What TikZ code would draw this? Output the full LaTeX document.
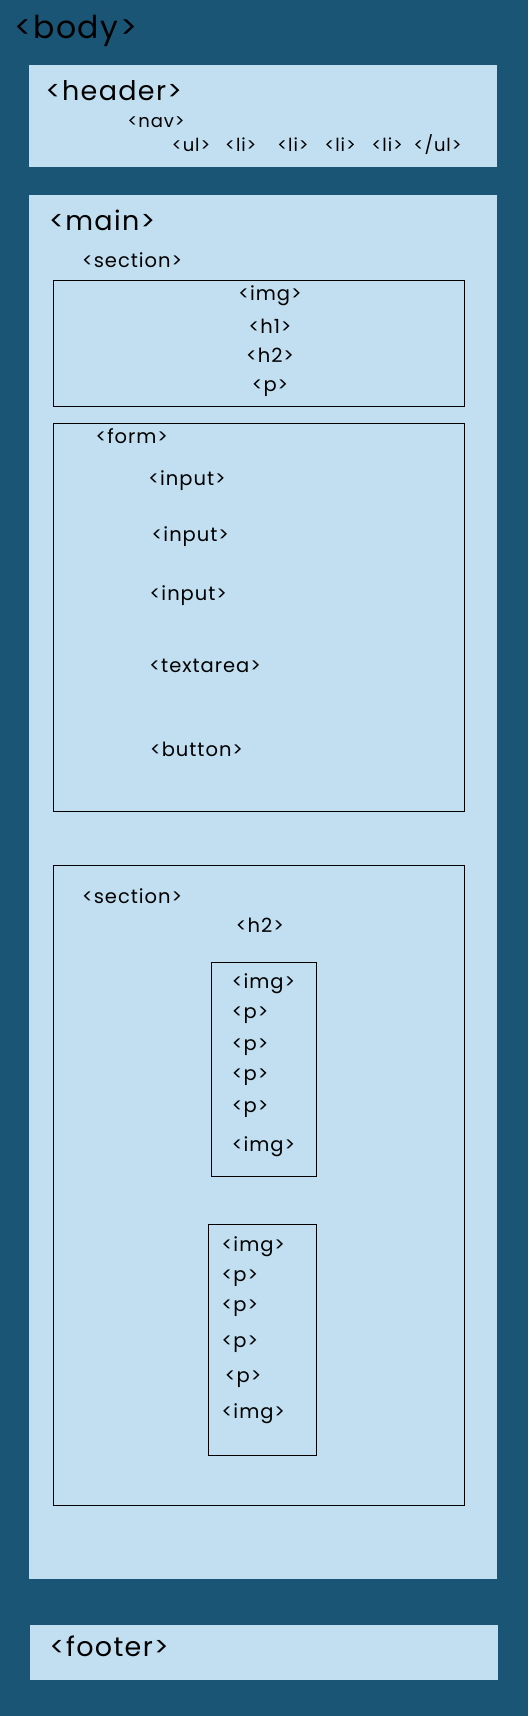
\documentclass[tikz,border=0pt]{standalone}
\usepackage{fontspec}
\setmainfont{Poppins}
\newfontfamily\tagfont[LetterSpace=5]{Poppins}
\definecolor{bodyblue}{RGB}{26,85,118}
\definecolor{boxblue}{RGB}{193,223,240}
\tikzset{
  region/.style={fill=boxblue, draw=none},
  tagbox/.style={draw=black, line width=1pt},
  tag/.style={anchor=base west, inner sep=0pt, font=\tagfont\fontsize{19.5}{19.5}\selectfont},
  bigtag/.style={anchor=base west, inner sep=0pt, font=\tagfont\fontsize{27}{27}\selectfont},
  smalltag/.style={anchor=base west, inner sep=0pt, font=\tagfont\fontsize{18}{18}\selectfont},
}
\begin{document}
\begin{tikzpicture}[x=1pt,y=1pt,yscale=-1,xscale=1]
\useasboundingbox (0,0) rectangle (528,1716);

%Shape: Background
\fill[bodyblue] (0,0) rectangle (528,1716);
%Shape: Rectangle header
\path[region] (29,65) rectangle (497,166.7);
%Shape: Rectangle main
\path[region] (29,195) rectangle (497,1579);
%Shape: Rectangle footer
\path[region] (30,1625) rectangle (498,1680);
%Shape: Rectangle section 1
\draw[tagbox] (53.2,280) rectangle (464.7,406.7);
%Shape: Rectangle form
\draw[tagbox] (53.2,423.3) rectangle (464.7,811);
%Shape: Rectangle section 2
\draw[tagbox] (53.2,865) rectangle (464.7,1505);
%Shape: Rectangle article 1
\draw[tagbox] (211.4,962.3) rectangle (316.5,1176.3);
%Shape: Rectangle article 2
\draw[tagbox] (208.4,1224.3) rectangle (316.5,1455.3);

% Text Node
\node[bigtag, font=\tagfont\fontsize{31.5}{31.5}\selectfont] (body) at (14.1,38.5) {<body>};
% Text Node
\node[bigtag] (header) at (45.5,100) {<header>};
% Text Node
\node[smalltag] (nav) at (127.3,127.7) {<nav>};
% Text Node
\node[smalltag] (ul) at (171.7,151) {<ul>};
\node[smalltag] (lia) at (225,151) {<li>};
\node[smalltag] (lib) at (277.1,151) {<li>};
\node[smalltag] (lic) at (324.3,151) {<li>};
\node[smalltag] (lid) at (371.4,151) {<li>};
\node[smalltag] (ulend) at (413.5,151) {</ul>};
% Text Node
\node[bigtag] (main) at (48.8,230.7) {<main>};
% Text Node
\node[tag] (sec1) at (81.8,267.3) {<section>};
% Text Node
\node[tag, anchor=base] (img1) at (270,300.7) {<img>};
% Text Node
\node[tag, anchor=base] (hone) at (270,333.3) {<h1>};
% Text Node
\node[tag, anchor=base] (htwo1) at (270,362.7) {<h2>};
% Text Node
\node[tag, anchor=base] (p1) at (270,391.7) {<p>};
% Text Node
\node[tag] (form) at (95.3,443.3) {<form>};
% Text Node
\node[tag] (inputa) at (148.2,485) {<input>};
% Text Node
\node[tag] (inputb) at (151.5,541) {<input>};
% Text Node
\node[tag] (inputc) at (149.5,600) {<input>};
% Text Node
\node[tag] (textarea) at (149.2,672.3) {<textarea>};
% Text Node
\node[tag] (button) at (149.8,756) {<button>};
% Text Node
\node[tag] (sec2) at (81.8,903.3) {<section>};
% Text Node
\node[tag] (htwo2) at (235.7,932) {<h2>};
% Text Node
\node[tag] (imga) at (231.6,988.3) {<img>};
\node[tag] (pa) at (231.6,1018.3) {<p>};
\node[tag] (pb) at (231.6,1050) {<p>};
\node[tag] (pc) at (231.6,1080) {<p>};
\node[tag] (pd) at (231.6,1112.7) {<p>};
\node[tag] (imgb) at (231.6,1151.7) {<img>};
% Text Node
\node[tag] (imgc) at (221.5,1251.7) {<img>};
\node[tag] (pe) at (221.5,1281) {<p>};
\node[tag] (pf) at (221.5,1311.7) {<p>};
\node[tag] (pg) at (221.5,1347) {<p>};
\node[tag] (ph) at (224.6,1382.3) {<p>};
\node[tag] (imgd) at (221.5,1418.3) {<img>};
% Text Node
\node[bigtag] (footer) at (49.5,1656.7) {<footer>};

\end{tikzpicture}
\end{document}
